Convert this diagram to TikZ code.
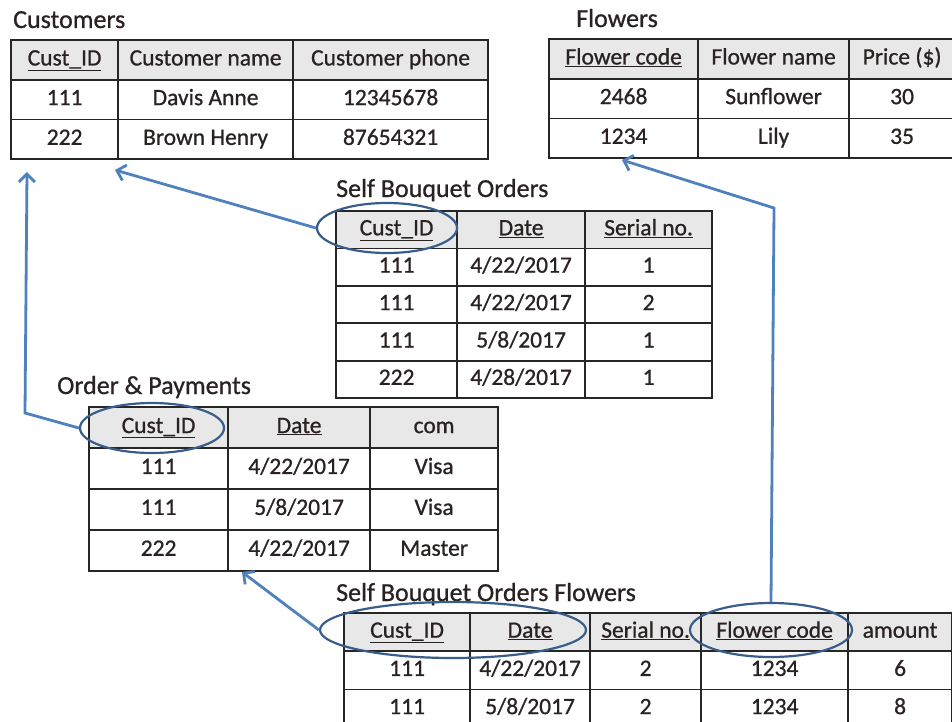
\documentclass[tikz,border=0pt]{standalone}
\usepackage{fontspec}
\setmainfont{Carlito}[FakeBold=0.8]
\usetikzlibrary{matrix,shapes.geometric,arrows.meta}

\definecolor{gridline}{HTML}{262626}
\definecolor{headfill}{HTML}{E8E8E8}
\definecolor{linkblue}{HTML}{4F81BD}
\definecolor{keyblue}{HTML}{385D8A}
\definecolor{celltext}{HTML}{2A2222}

\tikzset{
    datatable/.style={matrix of nodes, anchor=north west, inner sep=0pt,
        row sep=-1.8pt, column sep=-1.8pt,
        nodes={draw=gridline, line width=1.8pt, inner sep=0pt, text=celltext,
            text height=16pt, text depth=5pt, font=\fontsize{23.5}{28}\selectfont},
        row 1/.style={nodes={fill=headfill}}},
    tabletitle/.style={anchor=base west, inner sep=0pt, text=celltext,
        font=\fontsize{26}{30}\selectfont},
    keyring/.style={ellipse, draw=keyblue, line width=2.2pt, inner sep=0pt},
    link/.style={draw=linkblue, line width=2.8pt,
        -{Straight Barb[length=8pt,width=16pt]}}
}

\begin{document}
\begin{tikzpicture}[x=1pt,y=-1pt]
    \useasboundingbox (0,0) rectangle (952,722);

    % titles
    \node[tabletitle] (cust-title) at (13,28) {Customers};
    \node[tabletitle] (fl-title) at (576,27) {Flowers};
    \node[tabletitle] (sbo-title) at (336,197) {Self Bouquet Orders};
    \node[tabletitle] (op-title) at (57,394) {Order \& Payments};
    \node[tabletitle] (sbof-title) at (336,601) {Self Bouquet Orders Flowers};

    % tables
    \matrix (cust) [datatable, nodes={minimum height=39.7},
        column 1/.style={nodes={minimum width=107}},
        column 2/.style={nodes={minimum width=175}},
        column 3/.style={nodes={minimum width=195}}] at (10,39) {
        \underline{Cust\_ID} & Customer name & Customer phone \\
        111 & Davis Anne & 12345678 \\
        222 & Brown Henry & 87654321 \\
    };
    \matrix (fl) [datatable, nodes={minimum height=39.7},
        column 1/.style={nodes={minimum width=149}},
        column 2/.style={nodes={minimum width=151}},
        column 3/.style={nodes={minimum width=106}}] at (548,38) {
        \underline{Flower code} & Flower name & Price (\$) \\
        2468 & Sunflower & 30 \\
        1234 & Lily & 35 \\
    };
    \matrix (sbo) [datatable, nodes={minimum height=37.4},
        column 1/.style={nodes={minimum width=121}},
        column 2/.style={nodes={minimum width=128}},
        column 3/.style={nodes={minimum width=127}}] at (335,210) {
        \underline{Cust\_ID} & \underline{Date} & \underline{Serial no.} \\
        111 & 4/22/2017 & 1 \\
        111 & 4/22/2017 & 2 \\
        111 & 5/8/2017 & 1 \\
        222 & 4/28/2017 & 1 \\
    };
    \matrix (op) [datatable, nodes={minimum height=40.9},
        column 1/.style={nodes={minimum width=139}},
        column 2/.style={nodes={minimum width=142}},
        column 3/.style={nodes={minimum width=128}}] at (88,406) {
        \underline{Cust\_ID} & \underline{Date} & com \\
        111 & 4/22/2017 & Visa \\
        111 & 5/8/2017 & Visa \\
        222 & 4/22/2017 & Master \\
    };
    \matrix (sbof) [datatable, nodes={minimum height=38.2},
        column 1/.style={nodes={minimum width=126}},
        column 2/.style={nodes={minimum width=120}},
        column 3/.style={nodes={minimum width=111}},
        column 4/.style={nodes={minimum width=147}},
        column 5/.style={nodes={minimum width=104}}] at (343,612) {
        \underline{Cust\_ID} & \underline{Date} & \underline{Serial no.} & \underline{Flower code} & amount \\
        111 & 4/22/2017 & 2 & 1234 & 6 \\
        111 & 5/8/2017 & 2 & 1234 & 8 \\
    };

    % key rings
    \node[keyring, minimum width=140, minimum height=50] (sbo-key) at (387,228) {};
    \node[keyring, minimum width=144, minimum height=50] (op-key) at (152,428) {};
    \node[keyring, minimum width=266, minimum height=56] (sbof-key1) at (453,630) {};
    \node[keyring, minimum width=162, minimum height=54] (sbof-key2) at (771,630) {};

    % links
    \coordinate (cust-in1) at (115,170);
    \coordinate (cust-in2) at (27,172);
    \coordinate (op-bend) at (25,413);
    \coordinate (op-in) at (242,572);
    \coordinate (fl-bend) at (774,208);
    \coordinate (fl-in) at (622,160);
    \draw[link] (sbo-key.west) -- (cust-in1);
    \draw[link] (op-key.west) -- (op-bend) -- (cust-in2);
    \draw[link] (sbof-key1.west) -- (op-in);
    \draw[link] (sbof-key2.north) -- (fl-bend) -- (fl-in);
\end{tikzpicture}
\end{document}
